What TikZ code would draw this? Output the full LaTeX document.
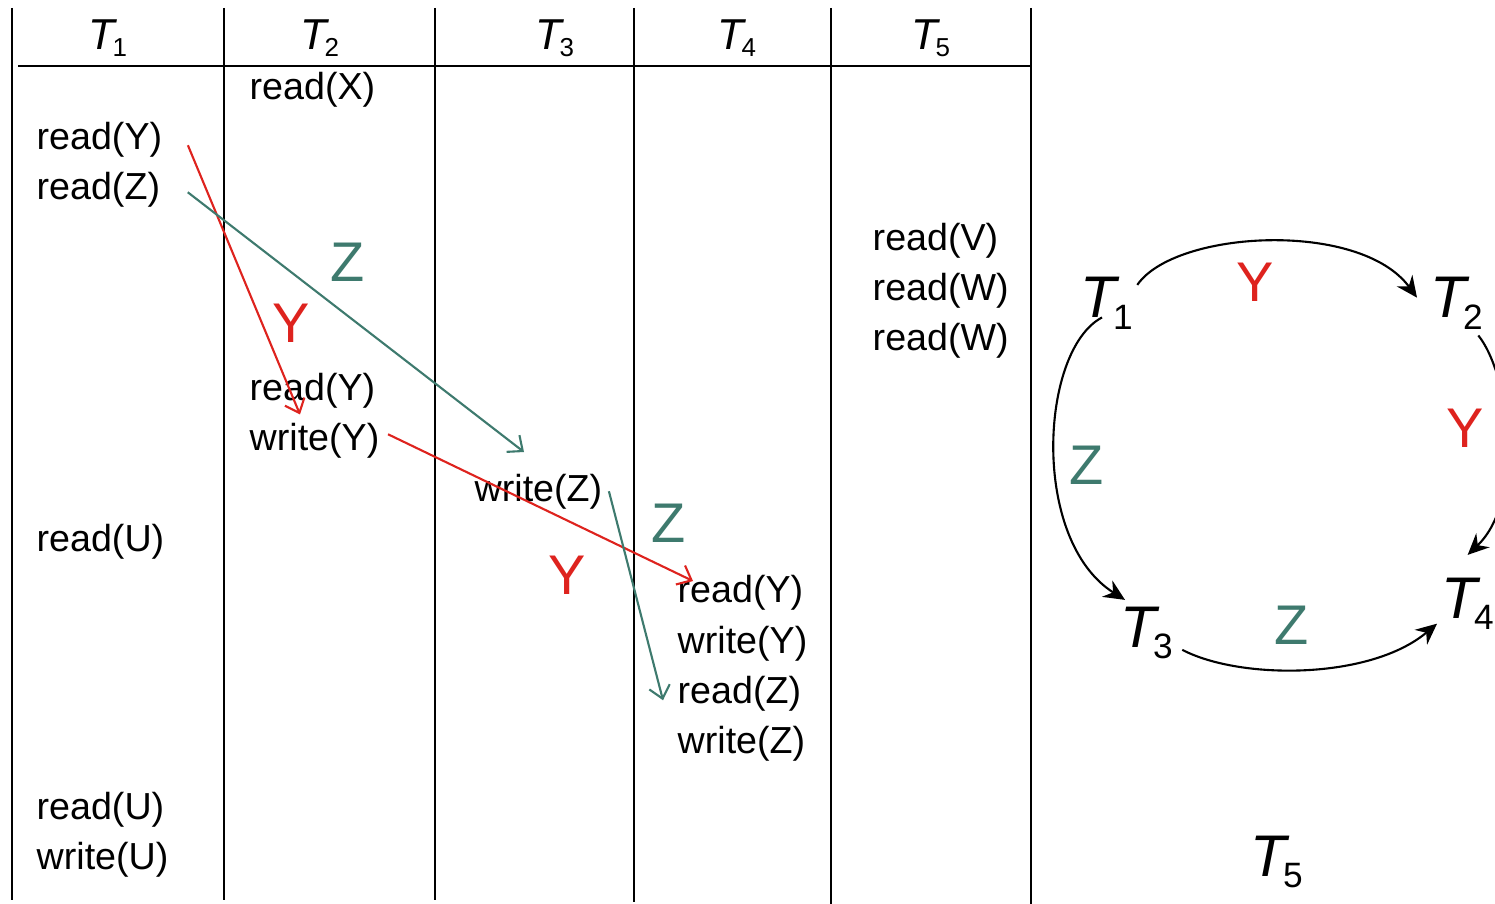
\documentclass[tikz,border=0pt]{standalone}
\usepackage{fontspec}
\setmainfont{Liberation Sans}
\usepackage{graphicx}
\usetikzlibrary{arrows.meta}

\definecolor{depred}{RGB}{222,35,30}
\definecolor{depteal}{RGB}{62,122,110}
\newcommand{\trsub}[2][0.2em]{\textit{T}\kern-0.12em\raisebox{-#1}{\scalebox{0.6}{#2}}}

\tikzset{
  op/.style={anchor=base west, inner sep=0pt, font=\fontsize{10.7pt}{12pt}\selectfont},
  head/.style={anchor=base, inner sep=0pt, font=\fontsize{12.3pt}{14pt}\selectfont},
  gnode/.style={anchor=base west, inner sep=0pt, font=\fontsize{16.7pt}{18pt}\selectfont},
  lbl/.style={anchor=center, inner sep=0pt, font=\fontsize{15.9pt}{18pt}\selectfont},
  depline/.style={line width=0.6pt, -{Straight Barb[length=3.5pt,width=6pt]}},
  garrow/.style={line width=0.6pt, -{Stealth[length=6pt,width=5.5pt,inset=2pt]}}
}

\begin{document}
\begin{tikzpicture}[x=0.01cm,y=-0.01cm]
\useasboundingbox (0,0) rectangle (1495,904);
\clip (0,0) rectangle (1495,904);

% schedule table
\foreach \cx/\cy in {12/900, 224/900, 435/900, 634/902, 831/904, 1031/904}{
    \draw[line width=0.6pt] (\cx,8) -- (\cx,\cy);
}
\draw[line width=0.6pt] (18,66) -- (1031,66);

\foreach \i/\cx in {1/108, 2/320, 3/555, 4/737, 5/931}{
    \node[head] (h\i) at (\cx,50) {\trsub[0.16em]{\i}};
}

\node[op] (a1) at (36,150) {read(Y)};
\node[op] (a2) at (36,200) {read(Z)};
\node[op] (a3) at (36,552) {read(U)};
\node[op] (a4) at (36,819) {read(U)};
\node[op] (a5) at (36,869) {write(U)};

\node[op] (b1) at (249,100) {read(X)};
\node[op] (b2) at (249,401) {read(Y)};
\node[op] (b3) at (249,451) {write(Y)};

\node[op] (c1) at (474,502) {write(Z)};

\node[op] (d1) at (677,603) {read(Y)};
\node[op] (d2) at (677,653) {write(Y)};
\node[op] (d3) at (677,703) {read(Z)};
\node[op] (d4) at (677,753) {write(Z)};

\node[op] (e1) at (872,251) {read(V)};
\node[op] (e2) at (872,301) {read(W)};
\node[op] (e3) at (872,351) {read(W)};

% conflicts
\draw[depline,depred] ([shift={(25,5)}]a1.east) -- ([shift={(51,5)}]b2.south west);
\draw[depline,depteal] ([shift={(27,2)}]a2.east) -- ([shift={(50,-22)}]c1.north west);
\draw[depline,depred] ([shift={(8,-7)}]b3.east) -- ([shift={(16,6)}]d1.north west);
\draw[depline,depteal] ([shift={(6,-1)}]c1.east) -- ([shift={(-14,7)}]d3.west);

\node[lbl,depteal] (lz1) at (348,262) {Z};
\node[lbl,depred] (ly1) at (291,323) {Y};
\node[lbl,depteal] (lz2) at (669,523) {Z};
\node[lbl,depred] (ly2) at (567,575) {Y};

% precedence graph
\node[gnode] (g1) at (1080,318) {\trsub{1}};
\node[gnode] (g2) at (1430,318) {\trsub{2}};
\node[gnode] (g3) at (1120,647) {\trsub{3}};
\node[gnode] (g4) at (1441,618) {\trsub{4}};
\node[gnode] (g5) at (1250,876) {\trsub{5}};

\draw[garrow] ([shift={(4,8)}]g1.north east) .. controls (1175,230) and (1360,220) .. ([shift={(-13,-6)}]g2.west);
\draw[garrow] ([shift={(22,-13)}]g1.south west) .. controls (1040,350) and (1030,540) .. ([shift={(5,-6)}]g3.north west);
\draw[garrow] ([shift={(-5,5)}]g2.south east) .. controls (1510,375) and (1525,500) .. ([shift={(0,-22)}]g4.north);
\draw[garrow] ([shift={(9,17)}]g3.east) .. controls (1240,680) and (1370,680) .. ([shift={(-4,20)}]g4.west);

\node[lbl,depred] (gy1) at (1255,282) {Y};
\node[lbl,depred] (gy2) at (1465,428) {Y};
\node[lbl,depteal] (gz1) at (1087,465) {Z};
\node[lbl,depteal] (gz2) at (1292,625) {Z};
\end{tikzpicture}
\end{document}
